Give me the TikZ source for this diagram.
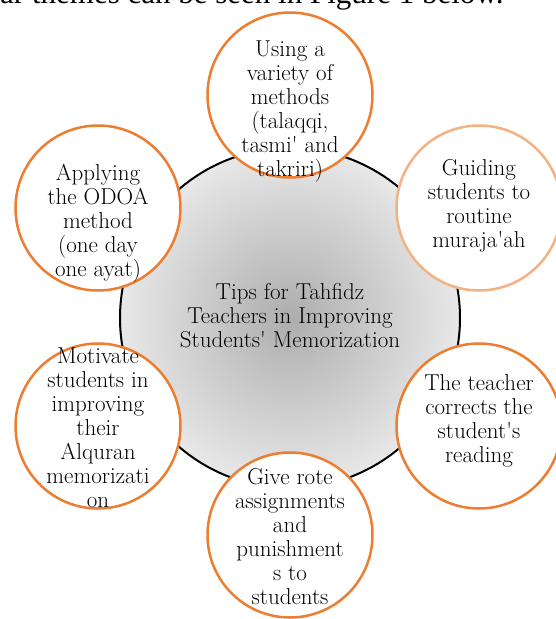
\documentclass[tikz,border=0pt]{standalone}
\usepackage{fontspec}
\newfontfamily\bodyfont{Liberation Serif}

\definecolor{tiporange}{HTML}{ED7D31}
\definecolor{tippeach}{HTML}{F4B183}
\definecolor{hubinner}{HTML}{ADADAD}
\definecolor{hubouter}{HTML}{E8E8E8}

\tikzset{
  tipcircle/.style={circle, draw=tiporange, line width=2.5pt, fill=white,
    minimum size=165pt, inner sep=0pt},
  tiptext/.style={align=center, inner sep=0pt,
    font=\fontsize{23}{24}\selectfont},
}
\newcommand{\q}{\textquotesingle}

\begin{document}
\begin{tikzpicture}[x=1pt, y=-1pt]
            \def \xmid    {290}
            \def \ymid    {318}
            \def \xleft   {98}
            \def \xright  {479}
            \def \ytop    {95}
            \def \yupper  {208}
            \def \ylower  {426}
            \def \ybot    {535}

            \useasboundingbox (0,0) rectangle (555,619);
% line of the page above the figure
            \node [anchor=base west, inner sep=0pt, font=\bodyfont\fontsize{31}{36}\selectfont] (caption) at (0,3.5) {ar themes can be seen in Figure 1 below.};

% hub
            \node [circle, draw, line width=2pt, minimum size=340pt, shade, inner color=hubinner, outer color=hubouter] (hub) at (\xmid, \ymid) {};

% tips
            \node [tipcircle] (methods)  at (\xmid, \ytop) {};
            \node [tipcircle, draw=tippeach] (murajaah) at (\xright, \yupper) {};
            \node [tipcircle] (correct)  at (\xright, \ylower) {};
            \node [tipcircle] (assign)   at (\xmid, \ybot) {};
            \node [tipcircle] (motivate) at (\xleft, \ylower) {};
            \node [tipcircle] (odoa)     at (\xleft, \yupper) {};

% texts
            \node [tiptext] (hub-text) at (\xmid, 316) {Tips for Tahfidz\\Teachers in Improving\\Students\q{} Memorization};
            \node [tiptext] (methods-text)  at (\xmid, 112) {Using a\\variety of\\methods\\(talaqqi,\\tasmi\q{} and\\takriri)};
            \node [tiptext] (murajaah-text) at (\xright, 206) {Guiding\\students to\\routine\\muraja\q{}ah};
            \node [tiptext] (correct-text)  at (\xright, 421) {The teacher\\corrects the\\student\q{}s\\reading};
            \node [tiptext] (assign-text)   at (\xmid, 537) {Give rote\\assignments\\and\\punishment\\s to\\students};
            \node [tiptext] (motivate-text) at (\xleft, 428) {Motivate\\students in\\improving\\their\\Alquran\\memorizati\\on};
            \node [tiptext] (odoa-text)     at (\xleft, 223) {Applying\\the ODOA\\method\\(one day\\one ayat)};

\end{tikzpicture}
\end{document}
